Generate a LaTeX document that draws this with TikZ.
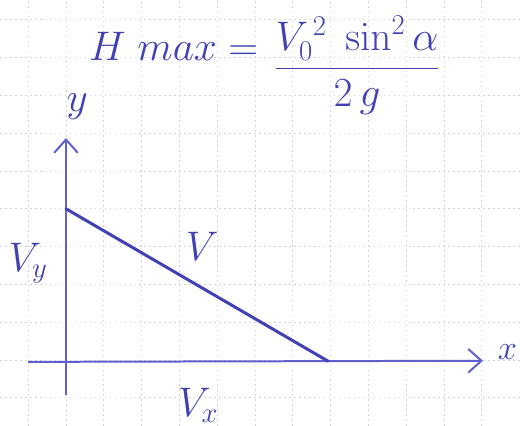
\documentclass[tikz,border=0pt]{standalone}
\usetikzlibrary{arrows.meta}
\definecolor{ink}{RGB}{65,65,180}
\definecolor{axisink}{RGB}{95,95,205}
\definecolor{gridgray}{RGB}{210,210,218}

\begin{document}
\begin{tikzpicture}[scale=0.8,
    ax/.style={draw=axisink,line width=1.2pt,-{Straight Barb[length=2.8mm,width=5mm]}},
    vec/.style={draw=ink,line width=1.8pt,line cap=round},
    gridln/.style={draw=gridgray,line width=0.5pt,dash pattern=on 1pt off 2pt},
    lbl/.style={text=ink,inner sep=0pt,font=\fontsize{24}{28}\selectfont}]
  \useasboundingbox[fill=white] (-1.746,-1.746) rectangle (12.011,9.524);
  % the grid
  \foreach \i in {-1,...,11}
    \draw[gridln] (\i,-1.746) -- (\i,9.524);
  \foreach \j in {-1,...,9}
    \draw[gridln] (-1.746,\j) -- (12.011,\j);
  % the axes
  \coordinate (xl) at (-1.0,-0.05);
  \coordinate (xr) at (11.03,-0.02);
  \coordinate (yb) at (0,-0.93);
  \coordinate (yt) at (0,5.87);
  \draw[ax] (xl) -- (xr);
  \draw[ax] (yb) -- (yt);
  \node[lbl] (ylab) at (0.3,6.7) {$y$};
  \node[lbl,font=\fontsize{22}{26}\selectfont] (xlab) at (11.68,0.22) {$x$};
  % the velocity
  \coordinate (vtop) at (0,4.0);
  \coordinate (vend) at (6.93,-0.03);
  \draw[vec] (vtop) -- (vend);
  \node[lbl,font=\fontsize{28}{32}\selectfont] (vlab) at (3.6,3.0) {$V$};
  \node[lbl,font=\fontsize{26}{30}\selectfont] (vylab) at (-1.0,2.57) {$V_y$};
  \node[lbl,font=\fontsize{26}{30}\selectfont] (vxlab) at (3.5,-1.2) {$V_x$};
  % the formula
  \node[lbl] (hmax) at (2.85,8.3) {$H\;max =$};
  \node[lbl] (frac) at (7.7,7.8)
    {$\displaystyle \frac{V_0^{\,2}\;\sin^2\alpha}{2\,g}$};
\end{tikzpicture}
\end{document}
